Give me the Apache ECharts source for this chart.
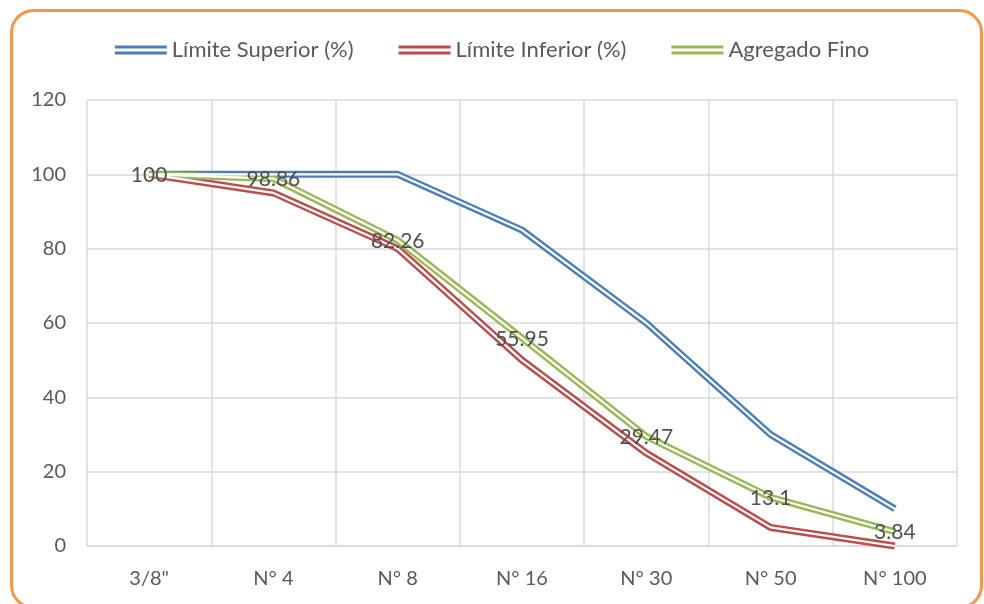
<!DOCTYPE html>
<html>
<head>
<meta charset="utf-8">
<script src="https://cdn.jsdelivr.net/npm/echarts@6/dist/echarts.min.js"></script>
<style>
  html, body { margin: 0; padding: 0; background: #ffffff; }
  #chart { width: 984px; height: 604px; }
</style>
</head>
<body>
<div id="chart"></div>
<script>
// Sieve sizes (tamices)
const categories = ['3/8"', 'N° 4', 'N° 8', 'N° 16', 'N° 30', 'N° 50', 'N° 100'];
// Grading limits and measured fine aggregate, % passing
const limiteSuperior = [100, 100, 100, 85, 60, 30, 10];
const limiteInferior = [100, 95, 80, 50, 25, 5, 0];
const agregadoFino = [100, 98.86, 82.26, 55.95, 29.47, 13.1, 3.84];
const yTicks = { min: 0, max: 120, interval: 20 };

const FONT = 'Lato, "Open Sans", sans-serif';
const TEXT = '#595959';
const GRID = '#D9D9D9';

// double-stroke legend icon: two thin parallel bars
const doubleIcon = 'path://M0,0H52V3H0Z M0,6H52V9H0Z';

// a compound "double" line: thick coloured stroke with a white core on top
function doubleLine(name, data, color, label) {
  const outer = {
    name: name,
    type: 'line',
    data: data,
    symbol: 'none',
    lineStyle: { color: color, width: 7 },
    itemStyle: { color: color },
    z: 2,
    animation: false
  };
  const inner = {
    name: name + ' ',
    type: 'line',
    data: data,
    symbol: 'none',
    lineStyle: { color: '#ffffff', width: 2.2 },
    itemStyle: { color: '#ffffff' },
    z: 3,
    animation: false,
    silent: true
  };
  if (label) {
    inner.label = {
      show: true,
      position: 'inside',
      offset: [0, 1],
      color: '#505050',
      fontFamily: FONT,
      fontSize: 21,
      formatter: p => String(p.value)
    };
    inner.symbol = 'circle';
    inner.symbolSize = 0.01;
    inner.showSymbol = true;
    inner.z = 4;
  }
  return [outer, inner];
}

const chart = echarts.init(document.getElementById('chart'), null, { renderer: 'canvas' });

chart.setOption({
  backgroundColor: '#ffffff',
  animation: false,
  textStyle: { fontFamily: FONT },
  graphic: [{
    type: 'rect',
    shape: { x: 11.5, y: 10.5, width: 970, height: 597, r: 22 },
    style: { fill: 'none', stroke: '#F79646', lineWidth: 3 },
    z: -10,
    silent: true
  }],
  legend: {
    top: 34,
    left: 'center',
    itemWidth: 52,
    itemHeight: 9,
    itemGap: 45,
    data: [
      { name: 'Límite Superior (%)', icon: doubleIcon, itemStyle: { color: '#4A7EBB' } },
      { name: 'Límite Inferior (%)', icon: doubleIcon, itemStyle: { color: '#BE4B48' } },
      { name: 'Agregado Fino', icon: doubleIcon, itemStyle: { color: '#98B954' } }
    ],
    textStyle: { color: TEXT, fontFamily: FONT, fontSize: 22 }
  },
  grid: { left: 87, right: 27, top: 100, bottom: 58, containLabel: false },
  xAxis: {
    type: 'category',
    data: categories,
    boundaryGap: true,
    axisLine: { show: true, lineStyle: { color: GRID, width: 1.5 } },
    axisTick: { show: false },
    axisLabel: { color: TEXT, fontFamily: FONT, fontSize: 20, margin: 23 },
    splitLine: { show: true, lineStyle: { color: GRID, width: 1.5 } }
  },
  yAxis: {
    type: 'value',
    min: yTicks.min,
    max: yTicks.max,
    interval: yTicks.interval,
    axisLine: { show: false },
    axisTick: { show: false },
    axisLabel: { color: TEXT, fontFamily: FONT, fontSize: 20, margin: 21 },
    splitLine: { show: true, lineStyle: { color: GRID, width: 1.5 } }
  },
  series: [
    ...doubleLine('Límite Superior (%)', limiteSuperior, '#4A7EBB', false),
    ...doubleLine('Límite Inferior (%)', limiteInferior, '#BE4B48', false),
    ...doubleLine('Agregado Fino', agregadoFino, '#98B954', true)
  ]
});
</script>
</body>
</html>
